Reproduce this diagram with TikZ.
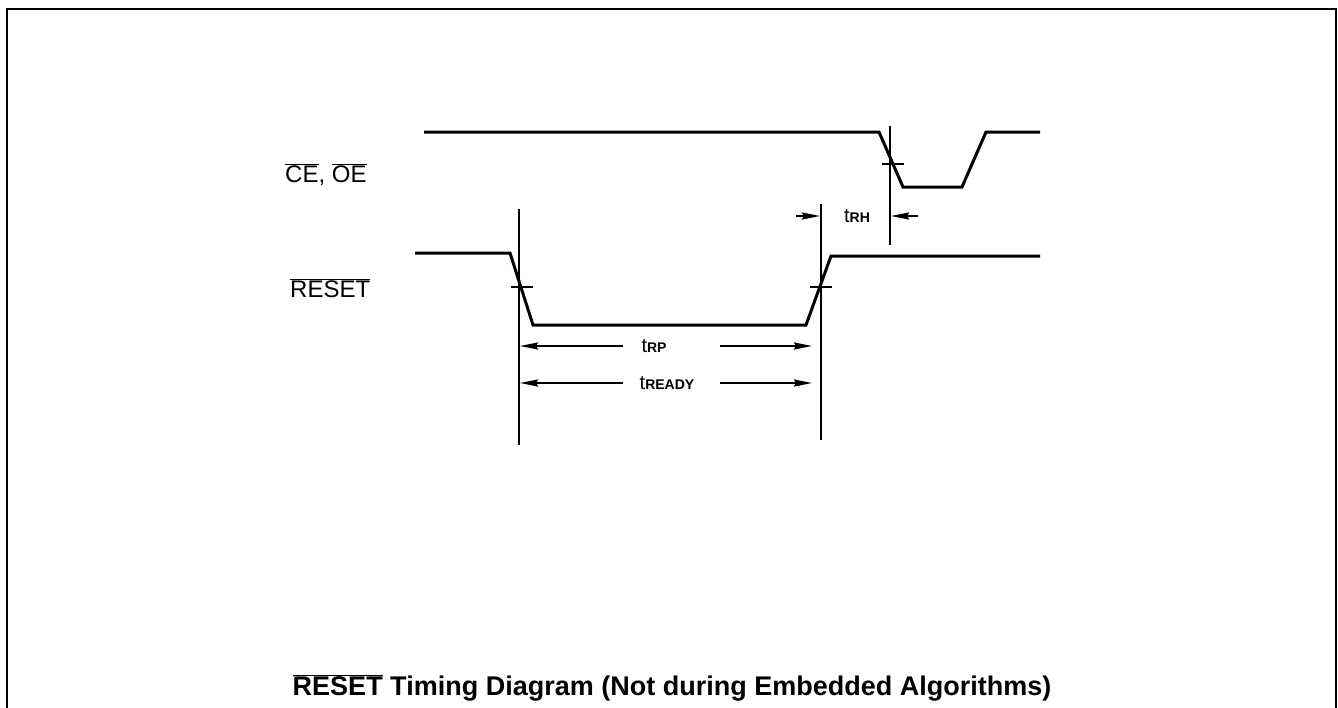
\documentclass[tikz,border=0pt]{standalone}
\usepackage{fontspec}
\setmainfont{Liberation Sans}
\usetikzlibrary{arrows.meta}
\newcommand\ovl[1]{$\overline{\hbox{#1}}$}
\begin{document}
\begin{tikzpicture}[x=1pt,y=-1pt,
  sig/.style={line width=3pt,line join=miter},
  mark line/.style={line width=2pt},
  tickln/.style={line width=1.5pt},
  dim/.style={line width=2pt,-{Stealth[length=18pt,width=7pt,inset=2pt]}},
  lbl/.style={font=\fontsize{24}{28}\selectfont,inner sep=0pt},
  tlbl/.style={inner sep=0pt,font=\fontsize{20}{24}\selectfont}]
\useasboundingbox (0,0) rectangle (1338,707);
% frame
\draw[line width=2.5pt] (7,720) -- (7,9) -- (1336,9) -- (1336,720);
% signal labels
\node[lbl,anchor=base west] (ceoe) at (285,182) {\ovl{CE}, \ovl{OE}};
\node[lbl,anchor=base west] (rst) at (290,297) {\ovl{RESET}};
% CE/OE waveform
\draw[sig] (424,132) -- (879,132) -- (903,187) -- (962,187) -- (986,132) -- (1040,132);
% RESET waveform
\draw[sig] (415,253) -- (510,253) -- (533,325) -- (806,325) -- (831,256) -- (1040,256);
% vertical reference lines
\coordinate (v1t) at (519,209); \coordinate (v1b) at (519,445);
\coordinate (v2t) at (821,204); \coordinate (v2b) at (821,440);
\coordinate (v3t) at (890,126); \coordinate (v3b) at (890,245);
\draw[mark line] (v1t) -- (v1b);
\draw[mark line] (v2t) -- (v2b);
\draw[mark line] (v3t) -- (v3b);
% crossing ticks
\draw[tickln] (882,164) -- (904,164);
\draw[tickln] (511,287) -- (533,287);
\draw[tickln] (810,287) -- (832,287);
% tRH
\coordinate (rh1) at (796,216); \coordinate (rh1e) at (820,216);
\coordinate (rh2) at (918,216); \coordinate (rh2e) at (891,216);
\draw[dim] (rh1) -- (rh1e);
\draw[dim] (rh2) -- (rh2e);
\node[tlbl] (trh) at (857,216) {t\textbf{\fontsize{14}{16}\selectfont RH}};
% tRP
\node[tlbl] (trp) at (654,346) {t\textbf{\fontsize{14}{16}\selectfont RP}};
\coordinate (rpl) at (623,346); \coordinate (rpr) at (720,346);
\draw[dim] (rpl) -- (520,346);
\draw[dim] (rpr) -- (812,346);
% tREADY
\node[tlbl] (trdy) at (667,383) {t\textbf{\fontsize{14}{16}\selectfont READY}};
\coordinate (rdl) at (623,383); \coordinate (rdr) at (720,383);
\draw[dim] (rdl) -- (520,383);
\draw[dim] (rdr) -- (812,383);
% title
\node[inner sep=0pt,anchor=base,font=\bfseries\fontsize{27}{32}\selectfont] (title) at (672,695)
  {\ovl{RESET} Timing Diagram (Not during Embedded Algorithms)};
\end{tikzpicture}
\end{document}
